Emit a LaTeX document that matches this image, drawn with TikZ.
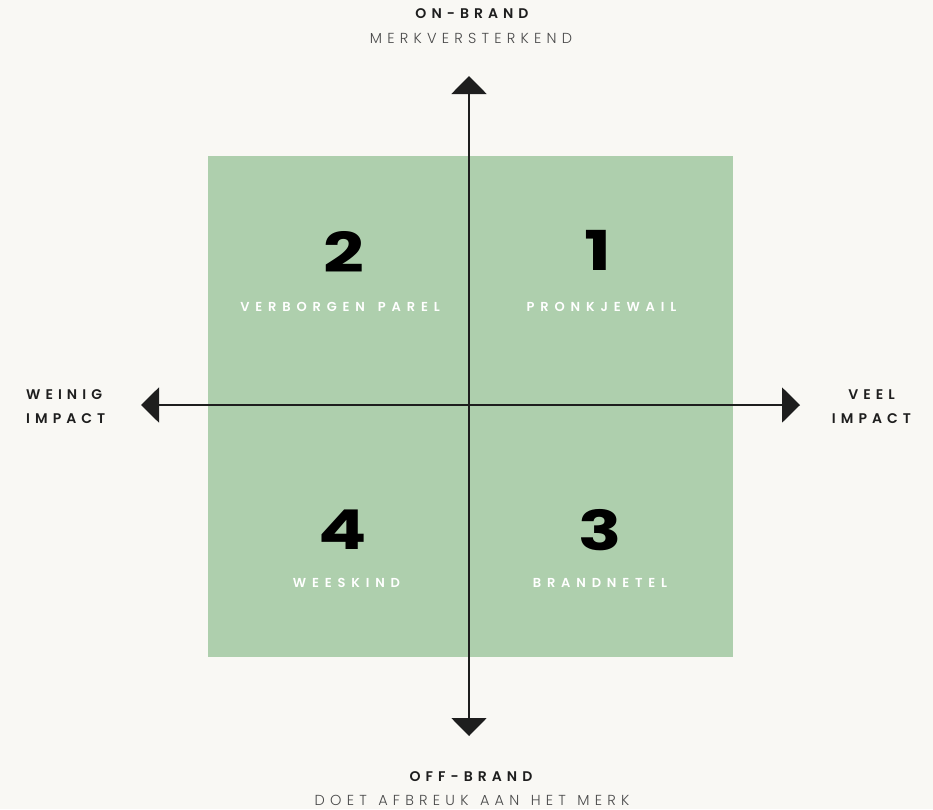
\documentclass[tikz,border=0pt]{standalone}
\usepackage{fontspec}
\usetikzlibrary{arrows.meta}
\newfontfamily\popb{Poppins SemiBold}[LetterSpace=36]
\newfontfamily\popw{Poppins SemiBold}[LetterSpace=45]
\newfontfamily\popl{Poppins Light}[LetterSpace=36]
\newfontfamily\popn{Poppins Bold}
\definecolor{bg}{HTML}{F9F8F4}
\definecolor{quad}{HTML}{AECFAD}
\definecolor{ink}{HTML}{1E1E1E}
\definecolor{soft}{HTML}{4A4A4A}
\tikzset{
  axis/.style={draw=ink, line width=2pt, -{Triangle[width=35pt,length=18pt]}},
  head/.style={font=\popb\fontsize{14}{16}\selectfont, text=ink, inner sep=0pt},
  sub/.style={font=\popl\fontsize{14.5}{16}\selectfont, text=soft, inner sep=0pt},
  side/.style={font=\popb\fontsize{14}{24}\selectfont, text=ink, inner sep=0pt},
  num/.style={font=\popn\fontsize{55}{55}\selectfont, text=black, inner sep=0pt, xscale=1.3},
  lab/.style={font=\popw\fontsize{13}{15}\selectfont, text=white, inner sep=0pt}
}
\newcommand{\wsp}{\hspace{11.5pt}}
\begin{document}
\begin{tikzpicture}[x=1pt,y=-1pt]
\fill[bg] (0,0) rectangle (933,809);
\useasboundingbox (0,0) rectangle (933,809);
\fill[quad] (208,156) rectangle (733,657);
\coordinate (c) at (469,405);
\coordinate (t) at (469,76);
\coordinate (b) at (469,736);
\coordinate (l) at (141,405);
\coordinate (r) at (800,405);
\draw[axis] (c) -- (t);
\draw[axis] (c) -- (b);
\draw[axis] (c) -- (l);
\draw[axis] (c) -- (r);
\node[head] (onb) at (472,14) {ON-BRAND};
\node[sub] (merk) at (471,38) {MERKVERSTERKEND};
\node[head] (offb) at (471,777) {OFF-BRAND};
\node[sub] (doet) at (472,800) {DOET\wsp AFBREUK\wsp AAN\wsp HET\wsp MERK};
\node[side, anchor=west, align=left] (wein) at (26,407) {WEINIG\\IMPACT};
\node[side, align=center] (veel) at (871.5,407) {VEEL\\IMPACT};
\node[num] (n2) at (344,252) {2};
\node[num] (n1) at (598,250) {1};
\node[num] (n4) at (343,530) {4};
\node[num] (n3) at (600,530) {3};
\node[lab] (l2) at (340,307) {VERBORGEN\hspace{13pt}PAREL};
\node[lab] (l1) at (601.5,307) {PRONKJEWAIL};
\node[lab] (l4) at (346.5,583) {WEESKIND};
\node[lab] (l3) at (600,583) {BRANDNETEL};
\end{tikzpicture}
\end{document}
